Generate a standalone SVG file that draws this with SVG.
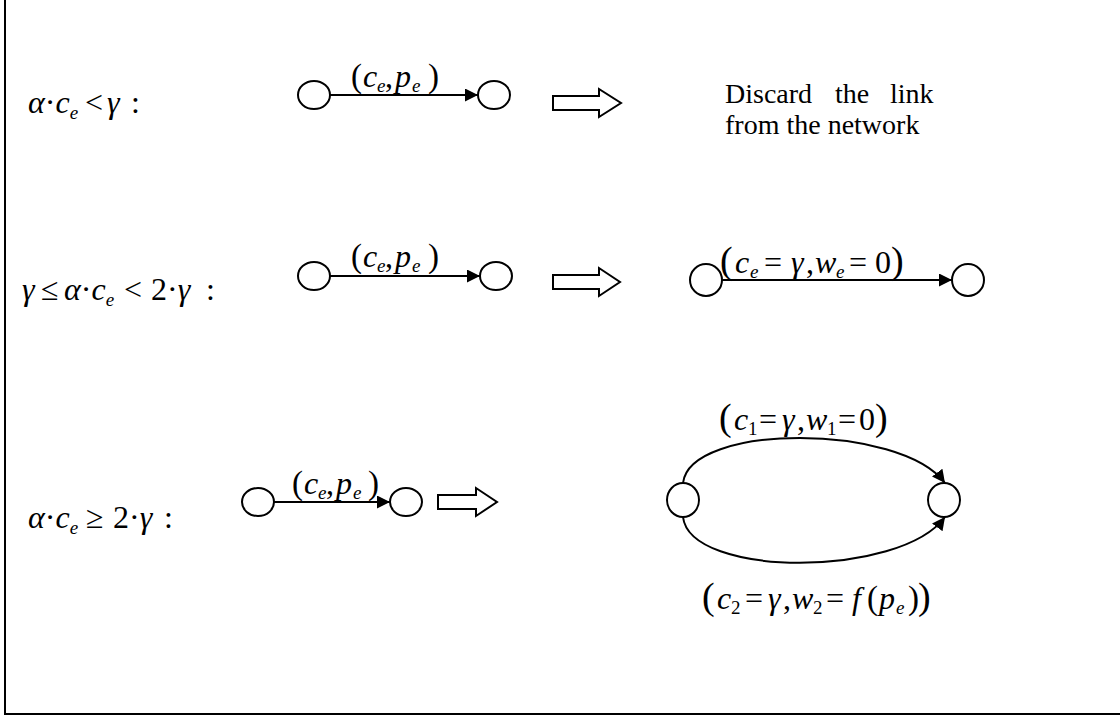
<svg xmlns="http://www.w3.org/2000/svg" width="1120" height="717" viewBox="0 0 1120 717">
<style>
text{font-family:"Liberation Serif","Times New Roman",serif;fill:#000}
.i{font-style:italic;font-size:32px}
.u{font-size:32px}
.s{font-style:italic;font-size:19px}
.sd{font-size:19px}
.p{font-size:33px}
.pb{font-size:38px}
.t{font-size:28px}
.node{fill:#fff;stroke:#000;stroke-width:2}
.edge{fill:none;stroke:#000;stroke-width:2}
.hollow{fill:#fff;stroke:#000;stroke-width:2}
</style>
<defs>
<marker id="ah" markerUnits="userSpaceOnUse" markerWidth="14" markerHeight="14" refX="13" refY="6.5" orient="auto">
<path d="M0,0 L13,6.5 L0,13 z" fill="#000"/>
</marker>
</defs>
<rect x="5" y="-10" width="1130" height="724" fill="none" stroke="#000" stroke-width="2"/>

<g id="cond1">
<text y="113"><tspan class="i" x="28">α<tspan font-style="normal">·</tspan>c</tspan><tspan class="s" dy="6">e</tspan><tspan class="u" x="85" dy="-6">&lt;</tspan><tspan class="i" x="107">γ</tspan><tspan class="u" x="131">:</tspan></text>
</g>
<g id="cond2">
<text y="300"><tspan class="i" x="22">γ</tspan><tspan class="u" x="41">≤</tspan><tspan class="i" x="64">α<tspan font-style="normal">·</tspan>c</tspan><tspan class="s" dy="6">e</tspan><tspan class="u" x="124" dy="-6">&lt;</tspan><tspan class="u" x="151">2·<tspan font-style="italic">γ</tspan></tspan><tspan class="u" x="206">:</tspan></text>
</g>
<g id="cond3">
<text y="528"><tspan class="i" x="28">α<tspan font-style="normal">·</tspan>c</tspan><tspan class="s" dy="6">e</tspan><tspan class="u" x="86" dy="-6">≥</tspan><tspan class="u" x="113">2·<tspan font-style="italic">γ</tspan></tspan><tspan class="u" x="164">:</tspan></text>
</g>

<g id="n1a"><ellipse class="node" cx="314" cy="95" rx="16" ry="14"/></g>
<g id="n1b"><ellipse class="node" cx="494" cy="95" rx="16" ry="14"/></g>
<g id="n2a"><ellipse class="node" cx="314" cy="276" rx="16" ry="14"/></g>
<g id="n2b"><ellipse class="node" cx="496" cy="276" rx="16" ry="14"/></g>
<g id="n2c"><ellipse class="node" cx="706" cy="280" rx="16" ry="16"/></g>
<g id="n2d"><ellipse class="node" cx="968" cy="280" rx="16" ry="16"/></g>
<g id="n3a"><ellipse class="node" cx="258" cy="502" rx="16" ry="14"/></g>
<g id="n3b"><ellipse class="node" cx="406" cy="502" rx="16" ry="14"/></g>
<g id="n3c"><ellipse class="node" cx="683" cy="500" rx="16" ry="17"/></g>
<g id="n3d"><ellipse class="node" cx="944" cy="500" rx="16" ry="17"/></g>

<g id="imp1"><polygon class="hollow" points="553,96 599,96 599,89 621,103 599,117 599,110 553,110"/></g>
<g id="imp2"><polygon class="hollow" points="553,275 599,275 599,268 620,282 599,296 599,289 553,289"/></g>
<g id="imp3"><polygon class="hollow" points="438,495 476,495 476,488 497,502 476,516 476,509 438,509"/></g>

<g id="discard">
<text class="t" y="103"><tspan x="725">Discard</tspan><tspan x="835">the</tspan><tspan x="890">link</tspan></text>
<text class="t" x="725" y="134">from the network</text>
</g>

<g id="connectors">
<line class="edge" x1="330" y1="95" x2="478" y2="95" marker-end="url(#ah)"/>
<line class="edge" x1="330" y1="276" x2="480" y2="276" marker-end="url(#ah)"/>
<line class="edge" x1="722" y1="280" x2="952" y2="280" marker-end="url(#ah)"/>
<line class="edge" x1="274" y1="502" x2="390" y2="502" marker-end="url(#ah)"/>
<path class="edge" d="M683,483 C690,423 900,423 945,483" marker-end="url(#ah)"/>
<path class="edge" d="M683,517 C690,578 900,578 945,517" marker-end="url(#ah)"/>
</g>

<g id="lab1">
<text y="87"><tspan class="p" x="351">(</tspan><tspan class="i" x="363">c</tspan><tspan class="s" x="377" dy="5">e</tspan><tspan class="u" x="385" dy="-5">,</tspan><tspan class="i" x="395">p</tspan><tspan class="s" x="412" dy="5">e</tspan><tspan class="p" x="428" dy="-5">)</tspan></text>
</g>
<g id="lab2">
<text y="267"><tspan class="p" x="351">(</tspan><tspan class="i" x="363">c</tspan><tspan class="s" x="377" dy="5">e</tspan><tspan class="u" x="385" dy="-5">,</tspan><tspan class="i" x="395">p</tspan><tspan class="s" x="412" dy="5">e</tspan><tspan class="p" x="428" dy="-5">)</tspan></text>
</g>
<g id="lab3">
<text y="494"><tspan class="p" x="292">(</tspan><tspan class="i" x="304">c</tspan><tspan class="s" x="318" dy="5">e</tspan><tspan class="u" x="326" dy="-5">,</tspan><tspan class="i" x="336">p</tspan><tspan class="s" x="353" dy="5">e</tspan><tspan class="p" x="368" dy="-5">)</tspan></text>
</g>
<g id="lab4">
<text y="273"><tspan class="pb" x="720">(</tspan><tspan class="i" x="735">c</tspan><tspan class="s" x="750" dy="5">e</tspan><tspan class="u" x="764" dy="-5">=</tspan><tspan class="i" x="791">γ</tspan><tspan class="u" x="806">,</tspan><tspan class="i" x="815">w</tspan><tspan class="s" x="836" dy="5">e</tspan><tspan class="u" x="849" dy="-5">=</tspan><tspan class="u" x="875">0</tspan><tspan class="pb" x="891">)</tspan></text>
</g>
<g id="lab5">
<text y="430"><tspan class="pb" x="719">(</tspan><tspan class="i" x="734">c</tspan><tspan class="sd" x="748" dy="5">1</tspan><tspan class="u" x="759" dy="-5">=</tspan><tspan class="i" x="782">γ</tspan><tspan class="u" x="797">,</tspan><tspan class="i" x="806">w</tspan><tspan class="sd" x="827" dy="5">1</tspan><tspan class="u" x="838" dy="-5">=</tspan><tspan class="u" x="859">0</tspan><tspan class="pb" x="875">)</tspan></text>
</g>
<g id="lab6">
<text y="609"><tspan class="pb" x="702">(</tspan><tspan class="i" x="717">c</tspan><tspan class="sd" x="731" dy="5">2</tspan><tspan class="u" x="745" dy="-5">=</tspan><tspan class="i" x="768">γ</tspan><tspan class="u" x="783">,</tspan><tspan class="i" x="792">w</tspan><tspan class="sd" x="813" dy="5">2</tspan><tspan class="u" x="826" dy="-5">=</tspan><tspan class="i" x="852">f</tspan><tspan class="p" x="867">(</tspan><tspan class="i" x="879">p</tspan><tspan class="s" x="896" dy="5">e</tspan><tspan class="p" x="908" dy="-5">)</tspan><tspan class="pb" x="918">)</tspan></text>
</g>
</svg>
